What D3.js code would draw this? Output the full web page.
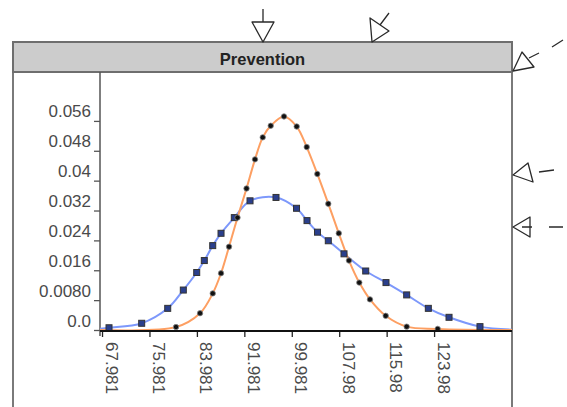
<!DOCTYPE html>
<html>
<head>
<meta charset="utf-8">
<script src="https://d3js.org/d3.v7.min.js"></script>
<style>
    body { margin: 0; background: #ffffff; }
    svg { display: block; font-family: "Liberation Sans", Arial, sans-serif; }
</style>
</head>
<body>
<div id="chart-container"></div>
<script>
// Panel title
const panelTitle = "Prevention";

// Y axis ticks and their labels
const yTickValues = [0, 0.008, 0.016, 0.024, 0.032, 0.04, 0.048, 0.056];
const yTickLabels = ["0.0", "0.0080", "0.016", "0.024", "0.032", "0.04", "0.048", "0.056"];

// X axis ticks and their labels
const xTickValues = [67.981, 75.981, 83.981, 91.981, 99.981, 107.98, 115.98, 123.98];
const xTickLabels = ["67.981", "75.981", "83.981", "91.981", "99.981", "107.98", "115.98", "123.98"];

// Narrow curve (orange line, black dots); first and last points are the unmarked tails
const orangeX = [67.64, 80.46, 84.51, 86.65, 88.05, 89.40, 90.83, 92.35, 93.78, 95.08, 96.43, 98.67,
    100.81, 102.50, 104.29, 106.14, 107.91, 109.63, 111.37, 113.17, 115.82, 119.36, 124.59, 137.12];
const orangeY = [0, 0.0008, 0.0045, 0.0098, 0.0152, 0.0223, 0.0301, 0.0379, 0.0457, 0.0516, 0.0547, 0.0572,
    0.0545, 0.0490, 0.0418, 0.0338, 0.0259, 0.0186, 0.0127, 0.0082, 0.0038, 0.0009, 0.0003, 0];

// Wide curve (blue line, square markers); first and last points are the unmarked tails
const blueX = [67.64, 69.16, 74.67, 79.06, 81.69, 83.95, 85.23, 86.65, 88.05, 90.29, 92.94, 97.32,
    100.78, 102.55, 104.32, 106.14, 108.79, 112.45, 115.87, 119.36, 123.01, 126.50, 131.72, 137.12];
const blueY = [0.0003, 0.0006, 0.0018, 0.0058, 0.0107, 0.0154, 0.0186, 0.0226, 0.0259, 0.0301, 0.0346, 0.0355,
    0.0326, 0.0293, 0.0262, 0.0239, 0.0204, 0.0158, 0.0127, 0.0094, 0.0058, 0.0034, 0.0009, 0.0001];

const xDomain = [67.64, 137.12];
const yDomain = [0, 0.0691];

function drawChart() {
    const width = 567, height = 407;
    const svg = d3.select("#chart-container").append("svg")
        .attr("width", width)
        .attr("height", height);

    // Panel frame and plot area
    const panelLeft = 13, panelRight = 512, titleTop = 42, titleBottom = 72;
    const plotLeft = 100, plotBottom = 330;

    const x = d3.scaleLinear().domain(xDomain).range([plotLeft, panelRight]);
    const y = d3.scaleLinear().domain(yDomain).range([plotBottom, titleBottom]);

    // Side borders of the panel
    svg.append("line")
        .attr("x1", panelLeft).attr("y1", titleTop)
        .attr("x2", panelLeft).attr("y2", height)
        .style("stroke", "#7a7a7a").style("stroke-width", 2);
    svg.append("line")
        .attr("x1", panelRight).attr("y1", titleTop)
        .attr("x2", panelRight).attr("y2", height)
        .style("stroke", "#7a7a7a").style("stroke-width", 2);

    // Title bar
    svg.append("rect")
        .attr("x", panelLeft)
        .attr("y", titleTop)
        .attr("width", panelRight - panelLeft)
        .attr("height", titleBottom - titleTop)
        .style("fill", "#cccccc")
        .style("stroke", "#6e6e6e")
        .style("stroke-width", 2);

    svg.append("text")
        .attr("x", (panelLeft + panelRight) / 2)
        .attr("y", 65)
        .style("text-anchor", "middle")
        .style("font-size", "16.5px")
        .style("font-weight", "bold")
        .style("fill", "#222")
        .text(panelTitle);

    // Y axis
    const yAxis = d3.axisLeft(y)
        .tickValues(yTickValues)
        .tickSize(6)
        .tickFormat((d, i) => yTickLabels[i]);

    const yAxisG = svg.append("g")
        .attr("transform", `translate(${plotLeft},0)`)
        .call(yAxis);
    yAxisG.select(".domain").remove();
    yAxisG.selectAll(".tick line").style("stroke", "#555").style("stroke-width", 1.3);
    yAxisG.selectAll(".tick text")
        .attr("x", -9)
        .attr("dy", -4)
        .style("font-family", "Liberation Sans, Arial, sans-serif")
        .style("font-size", "17px")
        .style("fill", "#4a4a4a");

    svg.append("line")
        .attr("x1", plotLeft).attr("y1", titleBottom)
        .attr("x2", plotLeft).attr("y2", plotBottom + 6)
        .style("stroke", "#555").style("stroke-width", 1.5);

    // X axis with rotated labels
    const xAxis = d3.axisBottom(x)
        .tickValues(xTickValues)
        .tickSize(7)
        .tickFormat((d, i) => xTickLabels[i]);

    const xAxisG = svg.append("g")
        .attr("transform", `translate(0,${plotBottom})`)
        .call(xAxis);
    xAxisG.select(".domain").remove();
    xAxisG.selectAll(".tick line").style("stroke", "#222").style("stroke-width", 1.3);
    xAxisG.selectAll(".tick text")
        .attr("x", 0)
        .attr("y", 0)
        .attr("dy", 0)
        .attr("transform", "translate(3,12) rotate(90)")
        .style("text-anchor", "start")
        .style("font-family", "Liberation Sans, Arial, sans-serif")
        .style("font-size", "17px")
        .style("fill", "#4a4a4a");

    // Clip the curves to the plot area
    svg.append("clipPath").attr("id", "plot-clip")
        .append("rect")
        .attr("x", plotLeft)
        .attr("y", titleBottom)
        .attr("width", panelRight - plotLeft)
        .attr("height", plotBottom - titleBottom);

    const plot = svg.append("g").attr("clip-path", "url(#plot-clip)");

    const lineGen = d3.line()
        .x(d => x(d[0]))
        .y(d => y(d[1]))
        .curve(d3.curveCatmullRom.alpha(0.5));

    const orangeData = orangeX.map((v, i) => [v, orangeY[i]]);
    const blueData = blueX.map((v, i) => [v, blueY[i]]);

    plot.append("path")
        .datum(blueData)
        .attr("d", lineGen)
        .style("fill", "none")
        .style("stroke", "#7d98fb")
        .style("stroke-width", 2);

    plot.append("path")
        .datum(orangeData)
        .attr("d", lineGen)
        .style("fill", "none")
        .style("stroke", "#fd9f62")
        .style("stroke-width", 2);

    // X axis baseline drawn over the curves' tails
    svg.append("line")
        .attr("x1", plotLeft).attr("y1", plotBottom + 1)
        .attr("x2", panelRight).attr("y2", plotBottom + 1)
        .style("stroke", "#111").style("stroke-width", 1.8);

    // Square markers on the wide curve
    plot.selectAll(".blue-marker")
        .data(blueData.slice(1, -1))
        .enter().append("rect")
        .attr("class", "blue-marker")
        .attr("x", d => x(d[0]) - 3)
        .attr("y", d => y(d[1]) - 3)
        .attr("width", 6)
        .attr("height", 6)
        .style("fill", "#2a3f8c")
        .style("stroke", "#333")
        .style("stroke-width", 1);

    // Dot markers on the narrow curve
    plot.selectAll(".orange-marker")
        .data(orangeData.slice(1, -1))
        .enter().append("circle")
        .attr("class", "orange-marker")
        .attr("cx", d => x(d[0]))
        .attr("cy", d => y(d[1]))
        .attr("r", 2.7)
        .style("fill", "#111")
        .style("stroke", "#888")
        .style("stroke-width", 0.8);

    drawArrows(svg);
}

// Hollow annotation arrows around the panel
function drawArrows(svg) {
    const arrowPaths = [
        "M263,42 L252,22 L274,22 Z M263,22 L263,9",
        "M372,42 L370,18 L389,31 Z M380,25 L389,13",
        "M513,71 L522,52 L534,67 Z M529,58 L539,53 M552,47 L563,40",
        "M513,175 L528,163 L533,182 Z M539,172 L554,170",
        "M513,227 L530,217 L530,237 Z M522,227 L532,227 M549,227 L563,227"
    ];

    svg.selectAll(".arrow")
        .data(arrowPaths)
        .enter().append("path")
        .attr("class", "arrow")
        .attr("d", d => d)
        .style("fill", "none")
        .style("stroke", "#2a2a2a")
        .style("stroke-width", 1.3)
        .style("stroke-linejoin", "round");
}

drawChart();
</script>
</body>
</html>
